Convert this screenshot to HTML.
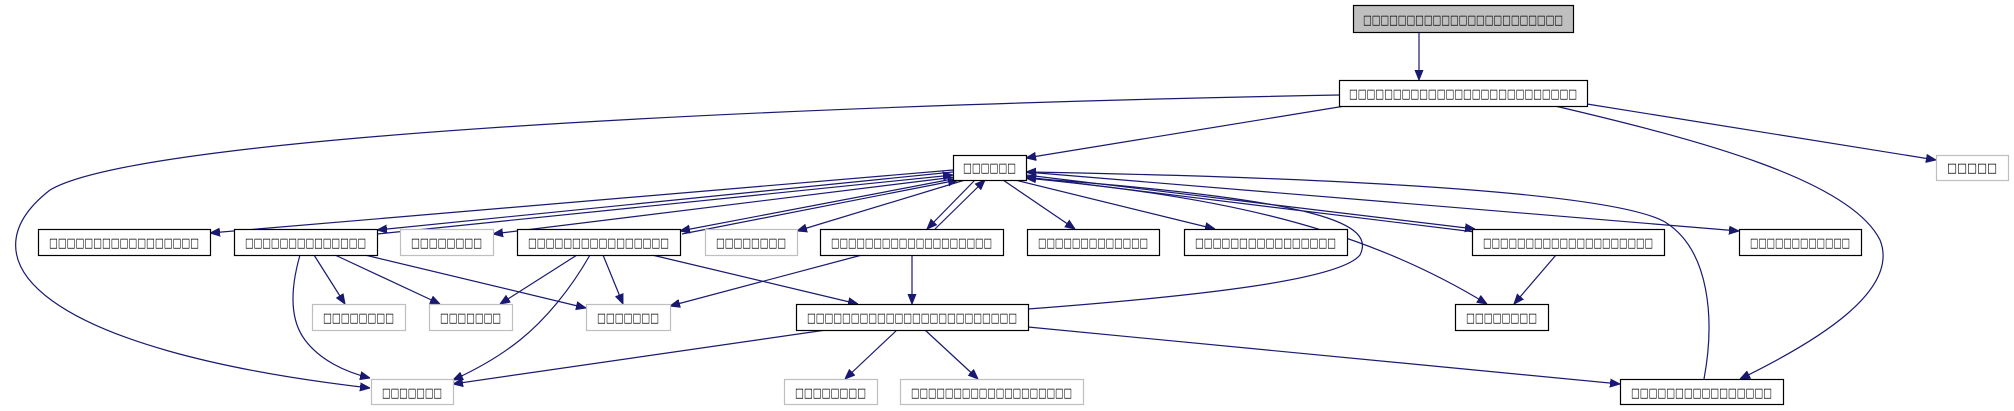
<!DOCTYPE html>
<html><head><meta charset="utf-8"><style>
html,body{margin:0;padding:0;background:#fff;}
svg{display:block;}
text{font-family:"DejaVu Sans","Liberation Sans",sans-serif;font-size:13px;}
</style></head><body>
<svg width="2014" height="411" viewBox="0 0 2014 411" xmlns="http://www.w3.org/2000/svg">
<defs>
<marker id="a" viewBox="0 0 10 10" refX="10" refY="5" markerWidth="10" markerHeight="10" markerUnits="userSpaceOnUse" orient="auto">
<path d="M0,1 L10,5 L0,9 z" fill="#191970" stroke="#191970"/>
</marker>
</defs>
<g fill="none" stroke="#191970" stroke-width="1.2" marker-end="url(#a)">
<path d="M1419,32 L1419,80"/>
<path d="M1345,106 L1026,158"/>
<path d="M1339,95 C 900,103 150,130 50,190 C -40,260 40,350 370,388"/>
<path d="M1587,104 L1936,160"/>
<path d="M1555,106 C 1700,140 1850,180 1880,240 C 1900,290 1820,340 1740,379"/>
<path d="M953,170 L210,233"/>
<path d="M953,172 L377,230"/>
<path d="M377,234 L953,175"/>
<path d="M955,177 L493,234"/>
<path d="M958,178 L680,231"/>
<path d="M682,234 L958,180"/>
<path d="M965,180 L797,231"/>
<path d="M975,180 L927,229"/>
<path d="M935,229 L985,180"/>
<path d="M1003,180 L1075,229"/>
<path d="M1015,180 L1215,229"/>
<path d="M1026,175 L1475,229"/>
<path d="M1475,232 L1026,177"/>
<path d="M1026,172 L1739,231"/>
<path d="M1026,178 C 1200,195 1350,220 1487,304"/>
<path d="M1028,309 C 1200,296 1340,280 1360,255 C 1375,225 1330,200 1026,178"/>
<path d="M1704,379 C 1715,320 1710,250 1665,222 C 1600,185 1200,175 1026,172"/>
<path d="M314,255 L345,304"/>
<path d="M335,255 L440,304"/>
<path d="M365,255 L586,308"/>
<path d="M300,255 C 290,290 290,320 305,340 C 320,360 345,372 370,378"/>
<path d="M577,255 L500,304"/>
<path d="M603,255 L623,304"/>
<path d="M590,255 C 570,290 545,320 520,340 C 500,356 475,370 453,380"/>
<path d="M652,255 L858,304"/>
<path d="M862,255 L670,306"/>
<path d="M912,255 L912,304"/>
<path d="M826,330 L453,384"/>
<path d="M897,330 L845,379"/>
<path d="M925,330 L978,379"/>
<path d="M1028,327 L1620,384"/>
<path d="M1556,255 L1514,304"/>
</g>
<g stroke-width="1.2">
<rect x="1353.5" y="5.5" width="220" height="27" fill="#bfbfbf" stroke="#000"/>
<rect x="1339.5" y="80.5" width="248" height="26" fill="#fff" stroke="#000"/>
<rect x="953.5" y="155.5" width="73" height="25" fill="#fff" stroke="#000"/>
<rect x="1936.5" y="155.5" width="72" height="25" fill="#fff" stroke="#bfbfbf"/>
<rect x="38.5" y="229.5" width="172" height="26" fill="#fff" stroke="#000"/>
<rect x="234.5" y="229.5" width="143" height="26" fill="#fff" stroke="#000"/>
<rect x="400.5" y="229.5" width="93" height="26" fill="#fff" stroke="#bfbfbf"/>
<rect x="517.5" y="229.5" width="163" height="26" fill="#fff" stroke="#000"/>
<rect x="705.5" y="229.5" width="92" height="26" fill="#fff" stroke="#bfbfbf"/>
<rect x="820.5" y="229.5" width="183" height="26" fill="#fff" stroke="#000"/>
<rect x="1027.5" y="229.5" width="132" height="26" fill="#fff" stroke="#000"/>
<rect x="1184.5" y="229.5" width="163" height="26" fill="#fff" stroke="#000"/>
<rect x="1472.5" y="229.5" width="192" height="26" fill="#fff" stroke="#000"/>
<rect x="1739.5" y="229.5" width="122" height="26" fill="#fff" stroke="#000"/>
<rect x="312.5" y="304.5" width="93" height="26" fill="#fff" stroke="#bfbfbf"/>
<rect x="429.5" y="304.5" width="83" height="26" fill="#fff" stroke="#bfbfbf"/>
<rect x="586.5" y="304.5" width="84" height="26" fill="#fff" stroke="#bfbfbf"/>
<rect x="796.5" y="304.5" width="232" height="26" fill="#fff" stroke="#000"/>
<rect x="1455.5" y="304.5" width="93" height="26" fill="#fff" stroke="#000"/>
<rect x="371.5" y="379.5" width="82" height="25" fill="#fff" stroke="#bfbfbf"/>
<rect x="784.5" y="379.5" width="93" height="25" fill="#fff" stroke="#bfbfbf"/>
<rect x="900.5" y="379.5" width="183" height="25" fill="#fff" stroke="#bfbfbf"/>
<rect x="1620.5" y="379.5" width="163" height="25" fill="#fff" stroke="#000"/>
</g>
<g fill="#000" lengthAdjust="spacingAndGlyphs">
<text x="1363" y="24" textLength="200" lengthAdjust="spacingAndGlyphs">□□□□□□□□□□□□□□□□□□□□□□□</text>
<text x="1349" y="98" textLength="228" lengthAdjust="spacingAndGlyphs">□□□□□□□□□□□□□□□□□□□□□□□□□□</text>
<text x="963" y="172" textLength="53" lengthAdjust="spacingAndGlyphs">□□□□□□</text>
<text x="1947" y="172" textLength="50" lengthAdjust="spacingAndGlyphs">□□□□□</text>
<text x="49" y="247" textLength="150" lengthAdjust="spacingAndGlyphs">□□□□□□□□□□□□□□□□□</text>
<text x="245" y="247" textLength="121" lengthAdjust="spacingAndGlyphs">□□□□□□□□□□□□□□</text>
<text x="411" y="247" textLength="71" lengthAdjust="spacingAndGlyphs">□□□□□□□□</text>
<text x="528" y="247" textLength="141" lengthAdjust="spacingAndGlyphs">□□□□□□□□□□□□□□□□</text>
<text x="716" y="247" textLength="70" lengthAdjust="spacingAndGlyphs">□□□□□□□□</text>
<text x="831" y="247" textLength="161" lengthAdjust="spacingAndGlyphs">□□□□□□□□□□□□□□□□□□□</text>
<text x="1038" y="247" textLength="110" lengthAdjust="spacingAndGlyphs">□□□□□□□□□□□□□</text>
<text x="1195" y="247" textLength="141" lengthAdjust="spacingAndGlyphs">□□□□□□□□□□□□□□□□</text>
<text x="1483" y="247" textLength="170" lengthAdjust="spacingAndGlyphs">□□□□□□□□□□□□□□□□□□□□</text>
<text x="1750" y="247" textLength="100" lengthAdjust="spacingAndGlyphs">□□□□□□□□□□□□</text>
<text x="323" y="322" textLength="71" lengthAdjust="spacingAndGlyphs">□□□□□□□□</text>
<text x="440" y="322" textLength="61" lengthAdjust="spacingAndGlyphs">□□□□□□□</text>
<text x="597" y="322" textLength="62" lengthAdjust="spacingAndGlyphs">□□□□□□□</text>
<text x="807" y="322" textLength="210" lengthAdjust="spacingAndGlyphs">□□□□□□□□□□□□□□□□□□□□□□□□</text>
<text x="1466" y="322" textLength="71" lengthAdjust="spacingAndGlyphs">□□□□□□□□</text>
<text x="382" y="397" textLength="60" lengthAdjust="spacingAndGlyphs">□□□□□□□</text>
<text x="795" y="397" textLength="71" lengthAdjust="spacingAndGlyphs">□□□□□□□□</text>
<text x="911" y="397" textLength="161" lengthAdjust="spacingAndGlyphs">□□□□□□□□□□□□□□□□□□□</text>
<text x="1631" y="397" textLength="141" lengthAdjust="spacingAndGlyphs">□□□□□□□□□□□□□□□□</text>
</g>
</svg>
</body></html>
